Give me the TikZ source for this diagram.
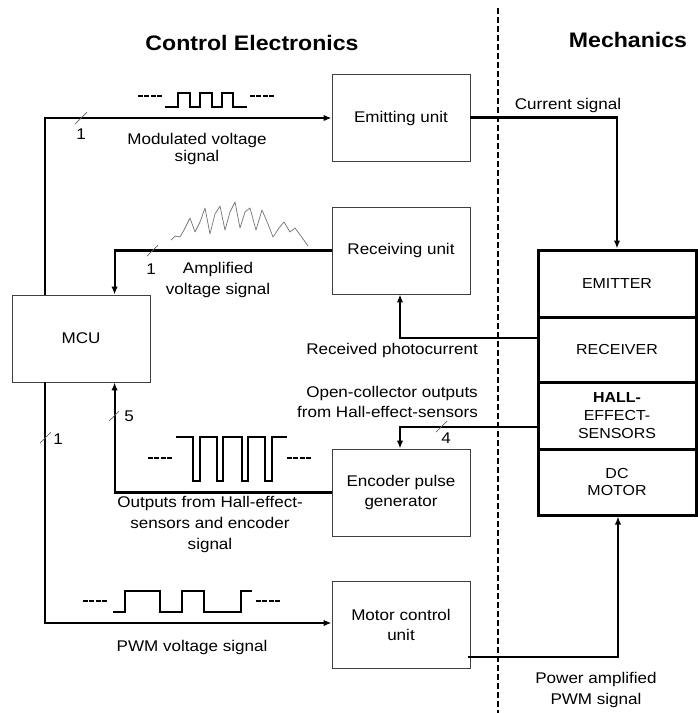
\documentclass[tikz,border=0pt]{standalone}
\usepackage{fontspec}
\setmainfont[FakeStretch=1.1]{Liberation Sans}
\usetikzlibrary{arrows.meta}
\tikzset{
  box/.style={draw=black!75, line width=0.9pt, minimum width=138pt, minimum height=87pt, inner sep=0pt, align=center, font=\fontsize{15.5}{20}\selectfont},
  cell/.style={draw=black, line width=3pt, minimum width=158pt, inner sep=0pt, align=center, font=\fontsize{14.5}{17.5}\selectfont},
  sig/.style={line width=2.1pt, -{Latex[length=8pt,width=6.5pt]}},
  slash/.style={draw=black!60, line width=0.7pt},
  lbl/.style={inner sep=0pt, align=center, font=\fontsize{15.5}{20}\selectfont},
  ttl/.style={inner sep=0pt, font=\fontsize{21}{24}\selectfont\bfseries},
  wave/.style={line width=2.1pt, line join=miter},
  dashline4/.style={line width=2.1pt, dash pattern=on 4.8pt off 1.6pt},
}
\begin{document}
\begin{tikzpicture}[x=1pt,y=-1pt]
\useasboundingbox (0,0) rectangle (698,713);
\fill[white] (0,0) rectangle (698,713);

% titles
\node[ttl] (tce) at (252,43) {Control Electronics};
\node[ttl] (tme) at (628,40) {Mechanics};

% divider
\draw[line width=2.2pt, dash pattern=on 6pt off 3pt] (498,8) -- (498,713);

% boxes
\node[box] (emit) at (401,118) {Emitting unit};
\node[box] (recv) at (401,250.5) {Receiving unit};
\node[box] (mcu) at (81,338.5) {MCU};
\node[box] (enc) at (401,492.5) {Encoder pulse\\generator};
\node[box] (mot) at (401,624.5) {Motor control\\unit};

% mechanics stack
\node[cell, minimum height=67pt] (emitter) at (617,283.5) {EMITTER};
\node[cell, minimum height=65pt] (receiver) at (617,349.5) {RECEIVER};
\node[cell, minimum height=67pt, font=\fontsize{14.5}{18}\selectfont] (hall) at (617,415.5) {\textbf{HALL-}\\EFFECT-\\SENSORS};
\node[cell, minimum height=66pt] (dcm) at (617,482) {DC\\MOTOR};

% connectors
\draw[sig] ([xshift=33pt]mcu.north west) |- (emit.west);
\draw[sig] (recv.west) -| ([xshift=103pt]mcu.north west);
\draw[sig] (enc.west) -| ([xshift=103pt]mcu.south west);
\draw[sig] ([xshift=33pt]mcu.south west) |- ([yshift=1.5pt]mot.west);
\draw[sig] ([yshift=0.5pt]emit.east) -| (emitter.north);
\draw[sig] ([yshift=11.5pt]receiver.west) -| ([xshift=-1pt]recv.south);
\draw[sig] ([yshift=-11.5pt]hall.west) -| ([xshift=-1pt]enc.north);
\draw[sig] ([yshift=-32.5pt,xshift=-2pt]mot.east) -| ([xshift=1pt]dcm.south);

% bus slashes and widths
\draw[slash] (75,124) -- (87,112);
\node[lbl] (n1a) at (81,134) {1};
\draw[slash] (147,256) -- (158,245);
\node[lbl] (n1b) at (151,269) {1};
\draw[slash] (109,421) -- (119,411);
\node[lbl] (n5) at (129,416) {5};
\draw[slash] (40,443) -- (51,432);
\node[lbl] (n1c) at (58,439) {1};
\draw[slash] (436,432) -- (447,421);
\node[lbl] (n4) at (446,438) {4};

% labels
\node[lbl, font=\fontsize{15.5}{16.5}\selectfont] (lmod) at (197,149) {Modulated voltage\\signal};
\node[lbl, font=\fontsize{15.5}{21.5}\selectfont] (lamp) at (218,280) {Amplified\\voltage signal};
\node[lbl, anchor=east] (lrec) at (478,350) {Received photocurrent};
\node[lbl, anchor=east, align=right] (lopen) at (478,402) {Open-collector outputs\\from Hall-effect-sensors};
\node[lbl, font=\fontsize{15.5}{21}\selectfont] (lout) at (210,524) {Outputs from Hall-effect-\\sensors and encoder\\signal};
\node[lbl] (lpwm) at (192,647) {PWM voltage signal};
\node[lbl] (lcur) at (568,105) {Current signal};
\node[lbl, font=\fontsize{15.5}{21}\selectfont] (lpow) at (596,690) {Power amplified\\PWM signal};

% modulated waveform
\draw[dashline4] (138,96) -- (162,96);
\draw[wave] (165,107) -- (178,107) -- (178,93) -- (190,93) -- (190,107) -- (200,107) -- (200,93) -- (212,93) -- (212,107) -- (222,107) -- (222,93) -- (233,93) -- (233,107) -- (247,107);
\draw[dashline4] (250,96) -- (274,96);

% noisy waveform
\draw[black!55, line width=0.7pt, line join=round] (171,240) -- (175,236) -- (180,237) -- (184,230) -- (190,218) -- (195,232) -- (200,222) -- (205,208) -- (210,234) -- (215,214) -- (220,206) -- (225,230) -- (230,212) -- (235,202) -- (240,228) -- (245,212) -- (250,208) -- (256,230) -- (262,210) -- (268,224) -- (273,237) -- (279,228) -- (284,222) -- (290,232) -- (295,228) -- (301,236) -- (308,246);

% encoder waveform
\draw[dashline4] (148,458) -- (172,458);
\draw[wave] (176,437) -- (193,437) -- (193,481) -- (200,481) -- (200,437) -- (217,437) -- (217,481) -- (223,481) -- (223,437) -- (242,437) -- (242,481) -- (248,481) -- (248,437) -- (265,437) -- (265,481) -- (272,481) -- (272,437) -- (287,437);
\draw[dashline4] (287,458) -- (311,458);

% PWM waveform
\draw[dashline4] (83,601) -- (107,601);
\draw[wave] (113,612) -- (125,612) -- (125,591) -- (160,591) -- (160,612) -- (182,612) -- (182,591) -- (204,591) -- (204,612) -- (241,612) -- (241,591) -- (252,591);
\draw[dashline4] (256,601) -- (280,601);
\end{tikzpicture}
\end{document}
